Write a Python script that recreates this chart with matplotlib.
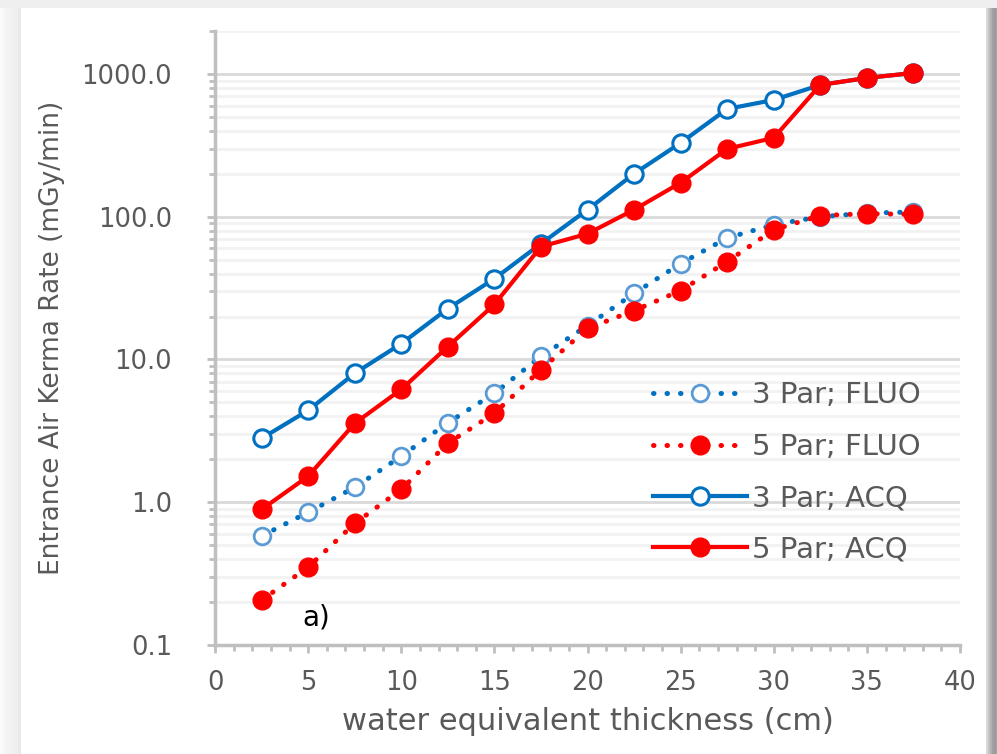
import numpy as np
import matplotlib.pyplot as plt
from matplotlib.patches import Rectangle
from matplotlib.ticker import FixedLocator, LogLocator, MultipleLocator, FuncFormatter, NullFormatter

# thickness (cm) and entrance air kerma rate (mGy/min)
thickness = [2.5, 5, 7.5, 10, 12.5, 15, 17.5, 20, 22.5, 25, 27.5, 30, 32.5, 35, 37.5]

par3_fluo = [0.58, 0.85, 1.27, 2.1, 3.6, 5.8, 10.5, 17.3, 29, 47, 71, 88, 100, 106, 108]
par5_fluo = [0.206, 0.351, 0.71, 1.23, 2.59, 4.2, 8.5, 16.5, 22, 30.4, 48.5, 81, 102, 105, 104]
par3_acq = [2.8, 4.4, 8.0, 12.9, 22.7, 36.8, 64.7, 112, 200, 329, 569, 658, 838, 938, 1016]
par5_acq = [0.89, 1.52, 3.57, 6.17, 12.3, 24.3, 61.7, 76, 112, 173, 299, 357, 838, 938, 1016]

labels = ['3 Par; FLUO', '5 Par; FLUO', '3 Par; ACQ', '5 Par; ACQ']

blue = '#0070C0'
red = '#FF0000'
gray_txt = '#595959'

plt.rcParams['font.family'] = ['DejaVu Sans']

fig = plt.figure(figsize=(9.97, 7.54), dpi=100)

# shadowed frame around the chart panel
W, H = 997.0, 754.0
def band(x0, y0, w, h, c):
    fig.patches.append(Rectangle((x0 / W, 1 - (y0 + h) / H), w / W, h / H,
                                 transform=fig.transFigure, color=c, zorder=-10, lw=0))
band(0, 0, 997, 8, '#efefef')
for i, c in enumerate(['#fafafa', '#f6f6f6', '#f3f3f3', '#f2f2f2', '#f0f0f0', '#eeeeee', '#e9e9e9']):
    band(i * 3, 8, 3.2, 746, c)
for i, c in enumerate(['#d8d8d8', '#c4c4c4', '#b0b0b0', '#a0a0a0', '#9a9a9a', '#a4a4a4']):
    band(986 + i * 2, 8, 2.2, 746, c)

ax = fig.add_axes([215 / W, 1 - 645 / H, 745 / W, 614 / H])
ax.set_yscale('log')
ax.set_xlim(0, 40)
ax.set_ylim(0.1, 2000)

dots = dict(ls=(0, (0.1, 2.6)), dash_capstyle='round', lw=3.6)
ax.plot(thickness, par3_fluo, color=blue, marker='o', ms=12,
        mfc='white', mec='#5B9BD5', mew=2, label=labels[0], zorder=3, **dots)
ax.plot(thickness, par5_fluo, color=red, marker='o', ms=13.5,
        mfc=red, mec=red, label=labels[1], zorder=4, **dots)
ax.plot(thickness, par3_acq, '-', color=blue, lw=3, marker='o', ms=12.5,
        mfc='white', mec=blue, mew=2.2, label=labels[2], zorder=5)
ax.plot(thickness, par5_acq, '-', color=red, lw=3, marker='o', ms=13.5,
        mfc=red, mec=red, label=labels[3], zorder=6)

# axes styling
for s in ['top', 'right']:
    ax.spines[s].set_visible(False)
for s in ['left', 'bottom']:
    ax.spines[s].set_color('#bfbfbf')
    ax.spines[s].set_linewidth(2.5)

ax.yaxis.set_major_locator(FixedLocator([0.1, 1, 10, 100, 1000]))
ax.yaxis.set_major_formatter(FuncFormatter(lambda v, p: '%.1f' % v))
ax.yaxis.set_minor_locator(LogLocator(base=10, subs=np.arange(2, 10)))
ax.yaxis.set_minor_formatter(NullFormatter())
ax.xaxis.set_major_locator(MultipleLocator(5))
ax.xaxis.set_minor_locator(MultipleLocator(1))

ax.tick_params(which='major', length=6, width=2, color='#bfbfbf',
               labelsize=18.5, labelcolor=gray_txt)
ax.tick_params(which='minor', length=4, width=2, color='#bfbfbf')
ax.tick_params(axis='y', pad=25)
ax.tick_params(axis='x', pad=12)

ax.grid(True, which='major', axis='y', color='#d9d9d9', lw=2)
ax.grid(True, which='minor', axis='y', color='#f2f2f2', lw=2)
ax.set_axisbelow(True)

ax.set_xlabel('water equivalent thickness (cm)', fontsize=22, color=gray_txt, labelpad=8)
ax.set_ylabel('Entrance Air Kerma Rate (mGy/min)', fontsize=19, color=gray_txt, labelpad=12)

ax.text(4.7, 0.157, 'a)', fontsize=20, color='black', va='center')

leg = ax.legend(loc='upper left', bbox_to_anchor=(0.553, 0.472), frameon=False,
                fontsize=21, labelcolor=gray_txt, handlelength=3.2,
                labelspacing=0.8, handletextpad=0.2)

fig.savefig('out.png', dpi=100)
